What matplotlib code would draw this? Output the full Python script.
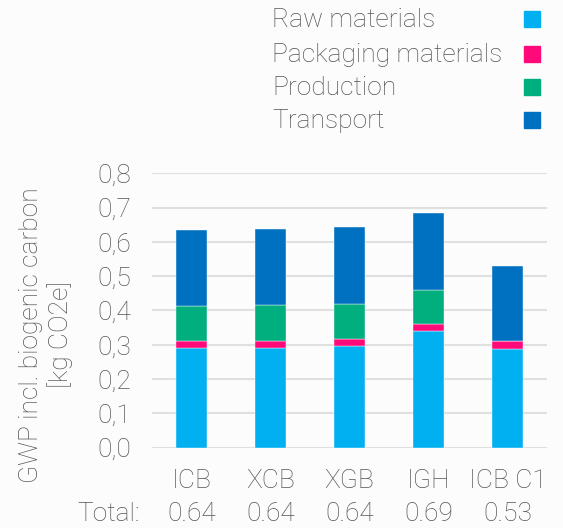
import numpy as np
import matplotlib.pyplot as plt
from matplotlib.patches import Rectangle
from matplotlib.transforms import blended_transform_factory

categories = ['ICB', 'XCB', 'XGB', 'IGH', 'ICB C1']
raw = [0.291, 0.292, 0.297, 0.339, 0.289]
packaging = [0.020, 0.020, 0.020, 0.022, 0.021]
production = [0.102, 0.104, 0.101, 0.100, 0.0]
transport = [0.221, 0.220, 0.225, 0.224, 0.221]
totals = ['0.64', '0.64', '0.64', '0.69', '0.53']
yticks = [0.0, 0.1, 0.2, 0.3, 0.4, 0.5, 0.6, 0.7, 0.8]

series = [('Raw materials', raw, '#00b0f0'),
          ('Packaging materials', packaging, '#ff0a78'),
          ('Production', production, '#00ae7e'),
          ('Transport', transport, '#0070c0')]

plt.rcParams['font.family'] = ['Roboto', 'DejaVu Sans']
plt.rcParams['font.weight'] = 'light'
txt = '#555555'
fs = 19

fig = plt.figure(figsize=(5.63, 5.28), dpi=100, facecolor='#fcfcfc')
ax = fig.add_axes([0.27, 0.152, 0.7016, 0.52])
ax.set_facecolor('#fcfcfc')

x = np.arange(len(categories))
bottom = np.zeros(len(categories))
for name, vals, col in series:
    ax.bar(x, vals, 0.4, bottom=bottom, color=col, label=name, zorder=3,
           edgecolor='#fcfcfc', linewidth=0.3)
    bottom += np.array(vals)

ax.set_xlim(-0.5, len(categories) - 0.5)
ax.set_ylim(0, 0.8)
ax.set_yticks(yticks)
ax.set_yticklabels([f'{v:.1f}'.replace('.', ',') for v in yticks])
ax.yaxis.grid(True, color='#e0e0e0', linewidth=1.5, zorder=0)
ax.set_axisbelow(True)
for s in ax.spines.values():
    s.set_visible(False)
ax.tick_params(axis='both', length=0, labelsize=fs, labelcolor=txt)
ax.tick_params(axis='y', pad=15)
ax.tick_params(axis='x', pad=15)
ax.set_xticks(x)
ax.set_xticklabels(categories)

trans = blended_transform_factory(ax.transData, fig.transFigure)
yt = (528 - 514) / 528
for i, t in enumerate(totals):
    ax.text(x[i], yt, t, transform=trans, ha='center', va='center', fontsize=fs, color=txt)
fig.text(140 / 563, yt, 'Total:', ha='right', va='center', fontsize=fs, color=txt)

fig.text(46 / 563, (528 - 335) / 528, 'GWP incl. biogenic carbon\n[kg CO2e]', rotation=90,
         ha='center', va='center', multialignment='center', fontsize=fs, color=txt,
         linespacing=1.15)

# legend drawn by hand: text left aligned, square on the right
row_y = [19, 54, 87, 120]
for (name, vals, col), ry in zip(series, row_y):
    fig.text(272 / 563, (528 - ry - 1) / 528, name, ha='left', va='center', fontsize=fs, color=txt)
    fig.patches.append(Rectangle((524 / 563, (528 - ry - 8) / 528), 16 / 563, 16 / 528,
                                 transform=fig.transFigure, color=col, figure=fig))

fig.savefig('out.png', dpi=100, facecolor=fig.get_facecolor())
